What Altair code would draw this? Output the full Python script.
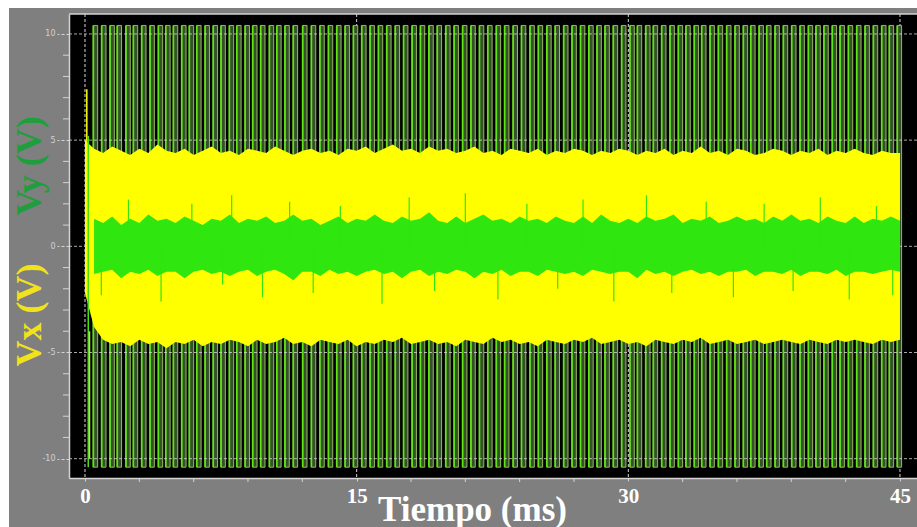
import altair as alt
import pandas as pd

# ---- data -------------------------------------------------------------
# Start times (ms) of the Vy switching pulses, which swing between the rails
vy_pulse_t = [
    0.46, 0.92, 1.38, 1.78, 2.26, 2.67, 3.13, 3.59, 4.05, 4.46,
    4.88, 5.34, 5.76, 6.17, 6.63, 7.08, 7.51, 7.97, 8.38, 8.84,
    9.26, 9.70, 10.18, 10.59, 11.04, 11.50, 12.02, 12.50, 12.97, 13.44,
    13.90, 14.36, 14.82, 15.28, 15.74, 16.20, 16.66, 17.13, 17.59, 18.06,
    18.52, 18.99, 19.45, 19.92, 20.38, 20.85, 21.31, 21.78, 22.24, 22.71,
    23.17, 23.64, 24.10, 24.57, 25.03, 25.50, 25.96, 26.43, 26.89, 27.36,
    27.82, 28.27, 28.71, 29.17, 29.63, 30.09, 30.50, 30.96, 31.38, 31.84,
    32.30, 32.76, 33.18, 33.64, 34.05, 34.51, 34.97, 35.43, 35.89, 36.35,
    36.76, 37.22, 37.64, 38.10, 38.56, 39.02, 39.48, 39.94, 40.36, 40.80,
    41.26, 41.69, 42.15, 42.61, 43.07, 43.53, 43.99, 44.41, 44.85,
]
vy_rail_hi = 10.4
vy_rail_lo = -10.4

# Envelope sample times (ms)
band_t = [
    0.0, 0.5, 1.0, 1.5, 2.0, 2.5, 3.0, 3.5, 4.0, 4.5,
    5.0, 5.5, 6.0, 6.5, 7.0, 7.5, 8.0, 8.5, 9.0, 9.5,
    10.0, 10.5, 11.0, 11.5, 12.0, 12.5, 13.0, 13.5, 14.0, 14.5,
    15.0, 15.5, 16.0, 16.5, 17.0, 17.5, 18.0, 18.5, 19.0, 19.5,
    20.0, 20.5, 21.0, 21.5, 22.0, 22.5, 23.0, 23.5, 24.0, 24.5,
    25.0, 25.5, 26.0, 26.5, 27.0, 27.5, 28.0, 28.5, 29.0, 29.5,
    30.0, 30.5, 31.0, 31.5, 32.0, 32.5, 33.0, 33.5, 34.0, 34.5,
    35.0, 35.5, 36.0, 36.5, 37.0, 37.5, 38.0, 38.5, 39.0, 39.5,
    40.0, 40.5, 41.0, 41.5, 42.0, 42.5, 43.0, 43.5, 44.0, 44.5,
    45.0,
]
# Vx envelope (V)
vx_hi = [
    5.0, 4.6, 4.4, 4.7, 4.5, 4.3, 4.6, 4.4, 4.8, 4.5,
    4.4, 4.6, 4.3, 4.5, 4.7, 4.4, 4.5, 4.3, 4.6, 4.5,
    4.4, 4.7, 4.5, 4.3, 4.5, 4.6, 4.4, 4.5, 4.3, 4.6,
    4.5, 4.7, 4.4, 4.6, 4.8, 4.5, 4.6, 4.4, 4.7, 4.5,
    4.6, 4.4, 4.5, 4.7, 4.4, 4.5, 4.3, 4.6, 4.5, 4.4,
    4.6, 4.3, 4.5, 4.4, 4.6, 4.5, 4.3, 4.5, 4.4, 4.6,
    4.5, 4.3, 4.5, 4.4, 4.6, 4.3, 4.5, 4.4, 4.7, 4.4,
    4.5, 4.3, 4.6, 4.5, 4.3, 4.4, 4.6, 4.5, 4.3, 4.5,
    4.4, 4.6, 4.3, 4.5, 4.4, 4.6, 4.4, 4.3, 4.5, 4.4,
    4.4,
]
vx_lo = [
    -2.2, -3.8, -4.4, -4.6, -4.5, -4.7, -4.4, -4.6, -4.5, -4.8,
    -4.5, -4.6, -4.4, -4.7, -4.5, -4.6, -4.4, -4.5, -4.7, -4.4,
    -4.6, -4.5, -4.3, -4.6, -4.5, -4.7, -4.4, -4.5, -4.6, -4.4,
    -4.7, -4.5, -4.6, -4.4, -4.5, -4.3, -4.6, -4.5, -4.4, -4.6,
    -4.5, -4.7, -4.4, -4.5, -4.6, -4.3, -4.5, -4.4, -4.6, -4.5,
    -4.7, -4.4, -4.5, -4.6, -4.4, -4.5, -4.3, -4.6, -4.5, -4.4,
    -4.6, -4.5, -4.7, -4.4, -4.5, -4.6, -4.4, -4.5, -4.3, -4.6,
    -4.5, -4.4, -4.6, -4.5, -4.4, -4.6, -4.5, -4.4, -4.5, -4.6,
    -4.4, -4.5, -4.6, -4.4, -4.5, -4.4, -4.5, -4.6, -4.4, -4.5,
    -4.4,
]
# Vy envelope around zero (V)
vy_hi = [
    0.3, 1.3, 1.1, 1.4, 1.0, 1.3, 1.1, 1.5, 1.2, 1.3,
    1.1, 1.4, 1.2, 1.0, 1.3, 1.2, 1.5, 1.1, 1.3, 1.2,
    1.4, 1.1, 1.2, 1.5, 1.2, 1.3, 1.0, 1.2, 1.4, 1.1,
    1.3, 1.2, 1.5, 1.2, 1.1, 1.4, 1.2, 1.3, 1.6, 1.2,
    1.1, 1.4, 1.1, 1.3, 1.5, 1.2, 1.3, 1.1, 1.4, 1.2,
    1.3, 1.1, 1.4, 1.2, 1.1, 1.4, 1.1, 1.5, 1.2, 1.1,
    1.3, 1.1, 1.4, 1.2, 1.3, 1.5, 1.1, 1.3, 1.2, 1.4,
    1.1, 1.2, 1.4, 1.2, 1.3, 1.1, 1.4, 1.2, 1.5, 1.2,
    1.3, 1.1, 1.4, 1.2, 1.1, 1.4, 1.1, 1.3, 1.2, 1.4,
    1.2,
]
vy_lo = [
    -0.3, -1.3, -1.2, -1.1, -1.5, -1.2, -1.3, -1.1, -1.4, -1.2,
    -1.2, -1.5, -1.2, -1.1, -1.3, -1.2, -1.4, -1.2, -1.1, -1.4,
    -1.2, -1.1, -1.3, -1.6, -1.2, -1.2, -1.4, -1.1, -1.3, -1.2,
    -1.4, -1.2, -1.1, -1.3, -1.2, -1.5, -1.2, -1.1, -1.4, -1.2,
    -1.3, -1.1, -1.2, -1.5, -1.2, -1.3, -1.1, -1.4, -1.2, -1.2,
    -1.4, -1.1, -1.2, -1.3, -1.2, -1.4, -1.1, -1.2, -1.3, -1.2,
    -1.2, -1.5, -1.1, -1.3, -1.2, -1.4, -1.2, -1.1, -1.3, -1.2,
    -1.4, -1.2, -1.2, -1.1, -1.4, -1.2, -1.2, -1.3, -1.1, -1.4,
    -1.2, -1.2, -1.3, -1.1, -1.4, -1.2, -1.2, -1.3, -1.2, -1.1,
    -1.2,
]
# Isolated Vy excursions out of the central band: time (ms), from, to (V)
vy_spike_t = [0.9, 2.4, 4.2, 5.9, 7.6, 8.1, 9.8, 11.3, 12.6, 14.1,
              16.4, 17.9, 19.3, 21.0, 22.8, 24.4, 26.1, 27.5, 29.2, 31.0,
              32.4, 34.3, 35.8, 37.5, 39.1, 40.6, 42.2, 43.7, 44.6]
vy_spike_lo = [-2.3, 0.0, -2.6, 0.0, -1.8, 0.0, -2.4, 0.0, -2.2, 0.0,
               -2.7, 0.0, -2.1, 0.0, -2.5, 0.0, -2.0, 0.0, -2.6, 0.0,
               -2.2, 0.0, -2.4, 0.0, -2.1, 0.0, -2.5, 0.0, -2.3]
vy_spike_hi = [0.0, 2.2, 0.0, 2.0, 0.0, 2.4, 0.0, 2.1, 0.0, 1.9,
               0.0, 2.3, 0.0, 2.5, 0.0, 2.0, 0.0, 2.2, 0.0, 2.4,
               0.0, 2.1, 0.0, 2.0, 0.0, 2.3, 0.0, 1.9, 0.0]
# Start-up transient strokes: time (ms), from, to (V)
trans_t = [0.10, 0.18, 0.25]
trans_lo = [-2.0, -10.4, -10.0]
trans_hi = [7.4, 5.2, -4.0]
trans_sig = ["Vx", "Vy", "Vx2"]

x_major = [0, 15, 30, 45]
x_minor = [3, 6, 9, 12, 18, 21, 24, 27, 33, 36, 39, 42]
y_major = [-10, -5, 0, 5, 10]
y_minor = [-9, -8, -7, -6, -4, -3, -2, -1, 1, 2, 3, 4, 6, 7, 8, 9]

# ---- tables -----------------------------------------------------------
pulses = pd.DataFrame({"t": vy_pulse_t,
                       "lo": [vy_rail_lo] * len(vy_pulse_t),
                       "hi": [vy_rail_hi] * len(vy_pulse_t)})
bands = pd.DataFrame({"t": band_t, "vx_hi": vx_hi, "vx_lo": vx_lo,
                      "vy_hi": vy_hi, "vy_lo": vy_lo})
spikes = pd.DataFrame({"t": vy_spike_t, "lo": vy_spike_lo, "hi": vy_spike_hi})
trans = pd.DataFrame({"t": trans_t, "lo": trans_lo, "hi": trans_hi, "sig": trans_sig})
xmaj = pd.DataFrame({"t": x_major})
xmin = pd.DataFrame({"t": x_minor})
ymaj = pd.DataFrame({"v": y_major})
ymin = pd.DataFrame({"v": y_minor})
one = pd.DataFrame({"k": [0]})

W, H = 848, 464
SERIF = "Liberation Serif"
GRID = "#d4d4d4"
VY_GREEN = "#2fe60f"

xs = alt.Scale(domain=[-0.883, 45.94], nice=False, zero=False)
ys = alt.Scale(domain=[-10.91, 10.94], nice=False, zero=False)

x_axis = alt.Axis(values=x_major, title="Tiempo (ms)", grid=False, zindex=1,
                  labelFont=SERIF, labelFontSize=21, labelFontWeight="bold",
                  labelColor="white", labelPadding=2, labelFlush=False,
                  labelOverlap=False, tickSize=5, tickDash=[3, 2], tickColor=GRID,
                  domainColor=GRID, domainWidth=1.5,
                  titleFont=SERIF, titleFontSize=35, titleFontWeight="bold",
                  titleColor="white", titleX=403, titleY=42, titleAlign="center",
                  titleBaseline="alphabetic")
y_axis = alt.Axis(values=y_major, title=None, grid=False, zindex=1,
                  labelFont="DejaVu Sans", labelFontSize=8, labelColor="#cfd0dc",
                  labelPadding=2, labelExpr="'' + datum.value",
                  tickSize=12, tickDash=[3, 2], tickColor=GRID,
                  domainColor=GRID, domainWidth=1.5)

X = alt.X("t:Q", scale=xs, axis=x_axis)
Y_lo = alt.Y("lo:Q", scale=ys, axis=y_axis)

# frame and plot background
frame = alt.Chart(one).mark_rect(color="#7f7f7f").encode(
    x=alt.value(-60), x2=alt.value(W), y=alt.value(-6), y2=alt.value(H + 49))
plot_bg = alt.Chart(one).mark_rect(color="black").encode(
    x=alt.value(0), x2=alt.value(W), y=alt.value(0), y2=alt.value(H))
top_line = alt.Chart(one).mark_rule(color=GRID, strokeWidth=1.5).encode(
    x=alt.value(0), x2=alt.value(W), y=alt.value(0))

vgrid = alt.Chart(xmaj).mark_rule(color=GRID, strokeDash=[3, 2], strokeWidth=1).encode(x=X)

# Vy pulses between the rails
pulse_body = alt.Chart(pulses).transform_calculate(t2="datum.t + 0.24").mark_rect(
    fill="#34512a", stroke="#98b862", strokeWidth=1).encode(
    x=X, x2="t2:Q", y=Y_lo, y2="hi:Q")
pulse_edge = alt.Chart(pulses).mark_rule(color="#5fe414", strokeWidth=1.7).encode(
    x=X, y=Y_lo, y2="hi:Q")

hgrid = alt.Chart(ymaj).mark_rule(color=GRID, strokeDash=[3, 2], strokeWidth=1,
                                  opacity=0.8).encode(
    y=alt.Y("v:Q", scale=ys, axis=y_axis))

vx_band = alt.Chart(bands).mark_area(color="#ffff00", interpolate="linear").encode(
    x=X, y=alt.Y("vx_lo:Q", scale=ys, axis=y_axis), y2="vx_hi:Q")
vy_band = alt.Chart(bands).transform_filter("datum.t > 0").mark_area(
    color=VY_GREEN, interpolate="linear").encode(
    x=X, y=alt.Y("vy_lo:Q", scale=ys, axis=y_axis), y2="vy_hi:Q")
vy_spikes = alt.Chart(spikes).mark_rule(color=VY_GREEN, strokeWidth=1.2).encode(
    x=X, y=Y_lo, y2="hi:Q")

transient = alt.Chart(trans).mark_rule(strokeWidth=1.5).encode(
    x=X, y=Y_lo, y2="hi:Q",
    color=alt.Color("sig:N", legend=None,
                    scale=alt.Scale(domain=["Vx", "Vy", "Vx2"],
                                    range=["#ffff00", "#44e010", "#d8c870"])))

# minor ticks outside the plot
x_minor_ticks = alt.Chart(xmin).mark_rule(color=GRID, strokeWidth=1).encode(
    x=X, y=alt.value(H), y2=alt.value(H + 4))
y_minor_ticks = alt.Chart(ymin).mark_rule(color=GRID, strokeWidth=1).encode(
    y=alt.Y("v:Q", scale=ys, axis=y_axis), x=alt.value(-6), x2=alt.value(0))

# two-coloured vertical axis title
title_vy = alt.Chart(one).mark_text(angle=270, font=SERIF, fontSize=36,
                                    fontWeight="bold", color="#1e9e3c").encode(
    x=alt.value(-39), y=alt.value(152), text=alt.value("Vy (V)"))
title_vx = alt.Chart(one).mark_text(angle=270, font=SERIF, fontSize=36,
                                    fontWeight="bold", color="#f2e21a").encode(
    x=alt.value(-39), y=alt.value(301), text=alt.value("Vx (V)"))

chart = alt.layer(
    frame, plot_bg, vgrid, pulse_body, pulse_edge, hgrid, vx_band, vy_band,
    vy_spikes, transient, top_line, x_minor_ticks, y_minor_ticks, title_vy, title_vx,
).properties(
    width=W, height=H, autosize="none",
    padding={"left": 69, "top": 14, "right": 0, "bottom": 49},
    background="white",
).configure_view(stroke=None)

chart.save("out.html", embed_options={"renderer": "svg", "actions": False})
